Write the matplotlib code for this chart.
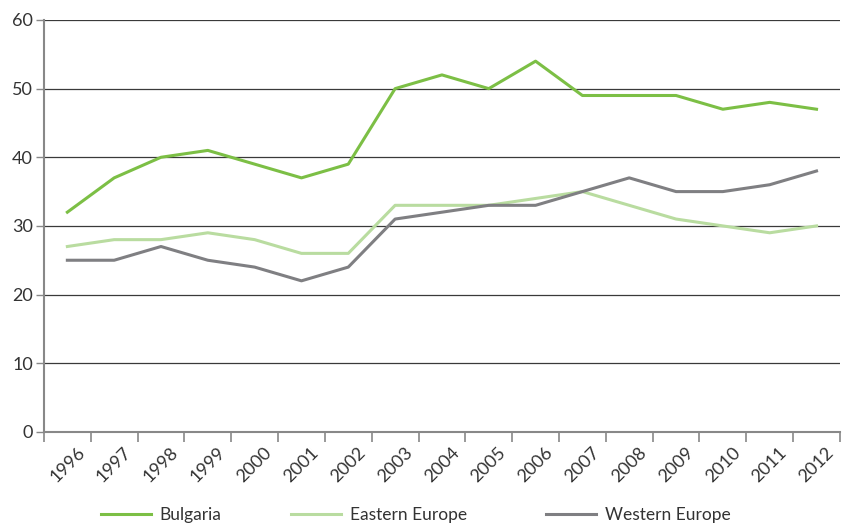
import matplotlib
matplotlib.use("Agg")
import matplotlib.pyplot as plt
from matplotlib.lines import Line2D

# ============================================================
# DATA
# ============================================================

years = [str(y) for y in range(1996, 2013)]

bulgaria = [32, 37, 40, 41, 39, 37, 39, 50, 52, 50, 54, 49, 49, 49, 47, 48, 47]
eastern_europe = [27, 28, 28, 29, 28, 26, 26, 33, 33, 33, 34, 35, 33, 31, 30, 29, 30]
western_europe = [25, 25, 27, 25, 24, 22, 24, 31, 32, 33, 33, 35, 37, 35, 35, 36, 38]

series_names = ["Bulgaria", "Eastern Europe", "Western Europe"]
colors = ["#7cbf45", "#b9dca0", "#7f7f82"]

plt.rcParams["font.family"] = ["Lato", "DejaVu Sans"]

fig = plt.figure(figsize=(8.45, 5.26), dpi=100)
ax = fig.add_axes([0.052, 0.179, 0.942, 0.783])

x = list(range(len(years)))

for vals, c in zip([bulgaria, eastern_europe, western_europe], colors):
    ax.plot(x, vals, color=c, linewidth=2.2, zorder=3)

ax.set_xlim(-0.5, len(years) - 0.5)
ax.set_ylim(0, 60)

# gridlines
ax.set_yticks(range(0, 61, 10))
ax.yaxis.grid(True, color="#3a3a3a", linewidth=0.9)
ax.set_axisbelow(True)

for side in ["top", "right"]:
    ax.spines[side].set_visible(False)
ax.spines["left"].set_color("#888888")
ax.spines["left"].set_linewidth(1.5)
ax.spines["bottom"].set_color("#888888")
ax.spines["bottom"].set_linewidth(1.5)

ax.tick_params(axis="y", length=6, width=1, color="#888888",
               labelsize=13, labelcolor="#333333", pad=2)

# category boundary ticks on x
ax.set_xticks([i - 0.5 for i in range(len(years) + 1)], minor=False)
ax.set_xticklabels([])
ax.tick_params(axis="x", which="major", length=7, width=1.2, color="#888888")
ax.set_xticks(x, minor=True)
ax.set_xticklabels(years, minor=True, rotation=45, ha="center",
                   fontsize=13, color="#333333")
ax.tick_params(axis="x", which="minor", length=0, pad=9)

# legend: one entry each, placed like the reference
legend_x = [0.119, 0.344, 0.646]
for name, c, lx in zip(series_names, colors, legend_x):
    h = Line2D([0], [0], color=c, linewidth=2.2)
    fig.legend([h], [name], loc="center left",
               bbox_to_anchor=(lx, 0.021), frameon=False,
               fontsize=12.5, handlelength=2.9, handletextpad=0.5,
               borderpad=0, borderaxespad=0, labelcolor="#333333")

fig.savefig("out.png", dpi=100)
